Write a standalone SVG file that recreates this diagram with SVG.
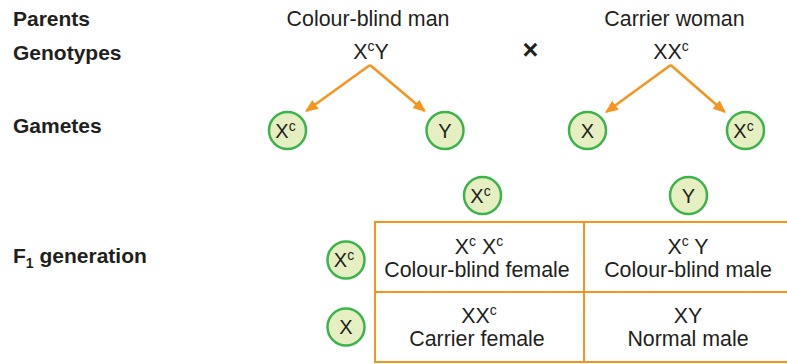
<svg xmlns="http://www.w3.org/2000/svg" width="787" height="364" viewBox="0 0 787 364">
  <style>
    text { font-family: "Liberation Sans", Arial, sans-serif; fill: #231f20; }
    .label { font-size: 21px; font-weight: bold; }
    .plain { font-size: 21.4px; text-anchor: middle; }
    .cell { font-size: 21.4px; text-anchor: middle; }
    .gam { font-size: 20px; text-anchor: middle; }
    .sup { font-size: 14px; }
    .gcircle { fill: #e5efc1; stroke: #3cb44b; stroke-width: 2.5; }
    .arrow { fill: none; stroke: #f7941d; stroke-width: 2.5; marker-end: url(#head); }
    .grid { fill: none; stroke: #f7941d; stroke-width: 2; }
  </style>
  <defs>
    <marker id="head" markerUnits="userSpaceOnUse" markerWidth="14" markerHeight="12" refX="11" refY="5.5" orient="auto">
      <path d="M0,0 L13,5.5 L0,11 z" fill="#f7941d"/>
    </marker>
  </defs>

  <!-- row labels -->
  <g id="row-labels">
    <text class="label" x="13" y="26">Parents</text>
    <text class="label" x="13" y="60">Genotypes</text>
    <text class="label" x="13" y="133">Gametes</text>
    <text class="label" x="13" y="263">F<tspan class="sup" dy="5">1</tspan><tspan dy="-5"> generation</tspan></text>
  </g>

  <!-- parents -->
  <g id="father">
    <text class="plain" x="368" y="26">Colour-blind man</text>
    <text class="plain" x="371" y="59">X<tspan class="sup" dy="-8">c</tspan><tspan dy="8">Y</tspan></text>
  </g>
  <g id="cross">
    <text x="530.5" y="59" style="font-size:27px;font-weight:bold;text-anchor:middle">×</text>
  </g>
  <g id="mother">
    <text class="plain" x="674.5" y="26">Carrier woman</text>
    <text class="plain" x="671" y="59">XX<tspan class="sup" dy="-8">c</tspan></text>
  </g>

  <!-- connectors: parent genotype to gametes -->
  <g id="connectors">
    <path class="arrow" d="M370,65 L306.6,110.8"/>
    <path class="arrow" d="M370,65 L424.3,110.8"/>
    <path class="arrow" d="M670.7,65 L606.6,111.8"/>
    <path class="arrow" d="M670.7,65 L724.4,111.8"/>
  </g>

  <!-- gametes -->
  <g id="gamete-father-xc">
    <circle class="gcircle" cx="287.5" cy="130.5" r="18.5"/>
    <text class="gam" x="285.5" y="137.5">X<tspan class="sup" dy="-7">c</tspan></text>
  </g>
  <g id="gamete-father-y">
    <circle class="gcircle" cx="445" cy="130.5" r="18.5"/>
    <text class="gam" x="445" y="137.5">Y</text>
  </g>
  <g id="gamete-mother-x">
    <circle class="gcircle" cx="587.5" cy="130.5" r="18.5"/>
    <text class="gam" x="587.5" y="137.5">X</text>
  </g>
  <g id="gamete-mother-xc">
    <circle class="gcircle" cx="745.5" cy="130.5" r="18.5"/>
    <text class="gam" x="743.5" y="137.5">X<tspan class="sup" dy="-7">c</tspan></text>
  </g>

  <!-- Punnett square headers -->
  <g id="col-xc">
    <circle class="gcircle" cx="482.5" cy="195.5" r="18.5"/>
    <text class="gam" x="480.5" y="202.5">X<tspan class="sup" dy="-7">c</tspan></text>
  </g>
  <g id="col-y">
    <circle class="gcircle" cx="688.5" cy="195.5" r="18.5"/>
    <text class="gam" x="688.5" y="202.5">Y</text>
  </g>
  <g id="row-xc">
    <circle class="gcircle" cx="346" cy="260" r="18.5"/>
    <text class="gam" x="344" y="267">X<tspan class="sup" dy="-7">c</tspan></text>
  </g>
  <g id="row-x">
    <circle class="gcircle" cx="346" cy="327" r="18.5"/>
    <text class="gam" x="346" y="334">X</text>
  </g>

  <!-- Punnett square grid -->
  <g id="grid">
    <path class="grid" d="M800,222 H375 V362 H800 M375,292 H800 M584,222 V362"/>
  </g>

  <!-- offspring cells -->
  <g id="cell-xcxc">
    <text class="cell" x="479" y="254">X<tspan class="sup" dy="-8">c</tspan><tspan dy="8"> X</tspan><tspan class="sup" dy="-8">c</tspan></text>
    <text class="cell" x="477" y="277">Colour-blind female</text>
  </g>
  <g id="cell-xcy">
    <text class="cell" x="688" y="254">X<tspan class="sup" dy="-8">c</tspan><tspan dy="8"> Y</tspan></text>
    <text class="cell" x="688" y="277">Colour-blind male</text>
  </g>
  <g id="cell-xxc">
    <text class="cell" x="479" y="323">XX<tspan class="sup" dy="-8">c</tspan></text>
    <text class="cell" x="477" y="346">Carrier female</text>
  </g>
  <g id="cell-xy">
    <text class="cell" x="688" y="323">XY</text>
    <text class="cell" x="688" y="346">Normal male</text>
  </g>
</svg>
